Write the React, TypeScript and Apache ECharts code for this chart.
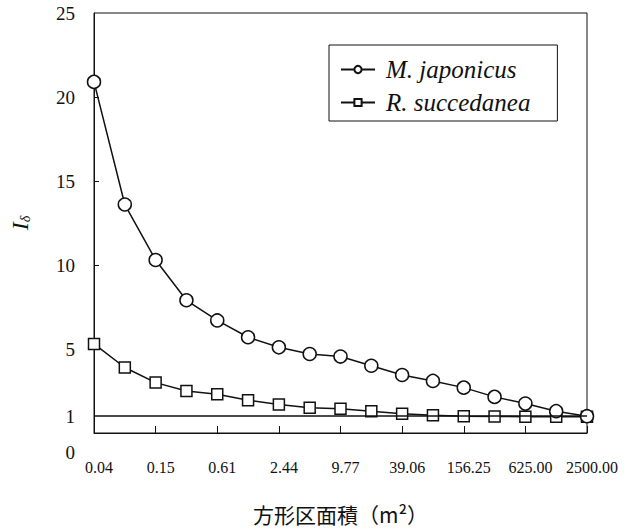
import React, { useEffect, useRef } from "react";
import * as echarts from "echarts";

const categories = [
  "0.04", "0.08", "0.15", "0.31", "0.61", "1.22", "2.44", "4.88", "9.77",
  "19.53", "39.06", "78.13", "156.25", "312.50", "625.00", "1250.00", "2500.00",
];
const japonicus = [20.9, 13.6, 10.3, 7.9, 6.7, 5.7, 5.1, 4.7, 4.55, 4.0, 3.45, 3.1, 2.7, 2.15, 1.75, 1.3, 1.0];
const succedanea = [5.3, 3.9, 3.0, 2.5, 2.3, 1.95, 1.7, 1.5, 1.45, 1.3, 1.15, 1.05, 1.0, 0.98, 0.97, 0.97, 0.97];
const yLabelValues = [0, 1, 5, 10, 15, 20, 25];
const yTickValues = [5, 10, 15, 20];
const referenceValue = 1;
const seriesNames = ["M. japonicus", "R. succedanea"];
const xAxisTitle = "方形区面積（m²）";

const SERIF = "'Liberation Serif', 'DejaVu Serif', serif";

export default function App() {
  const ref = useRef<HTMLDivElement>(null);
  useEffect(() => {
    if (!ref.current) return;
    const chart = echarts.init(ref.current, null, { renderer: "svg" });
    chart.setOption({
      animation: false,
      backgroundColor: "#ffffff",
      grid: {
        left: 93,
        top: 13,
        right: 37,
        bottom: 89,
        show: true,
        borderColor: "#111",
        borderWidth: 1,
      },
      legend: {
        orient: "vertical",
        left: 329,
        top: 45,
        padding: [12, 27, 6, 11],
        itemGap: 8,
        itemWidth: 34,
        itemHeight: 9,
        borderColor: "#111",
        borderWidth: 1,
        data: seriesNames,
        textStyle: {
          fontFamily: SERIF,
          fontStyle: "italic",
          fontSize: 25,
          color: "#111",
          padding: [0, 0, 0, 6],
        },
      },
      xAxis: {
        type: "category",
        data: categories,
        boundaryGap: false,
        name: xAxisTitle,
        nameLocation: "middle",
        nameGap: 70,
        nameTextStyle: {
          fontFamily: "'Noto Sans CJK JP', sans-serif",
          fontSize: 21,
          color: "#111",
        },
        axisLine: { show: true, lineStyle: { color: "#111", width: 1 } },
        axisTick: {
          show: true,
          inside: true,
          interval: 1,
          length: 7,
          lineStyle: { color: "#111" },
        },
        axisLabel: {
          interval: 1,
          margin: 26,
          fontFamily: SERIF,
          fontSize: 16,
          color: "#111",
          padding: [0, 0, 0, 10],
        },
        splitLine: { show: false },
      },
      yAxis: {
        type: "value",
        min: 0,
        max: 25,
        interval: 1,
        name: "{i|I}{s|δ}",
        nameLocation: "middle",
        nameRotate: 90,
        nameGap: 62,
        nameTextStyle: {
          rich: {
            i: { fontFamily: SERIF, fontStyle: "italic", fontSize: 24, color: "#111" },
            s: { fontFamily: SERIF, fontStyle: "italic", fontSize: 14, color: "#111", verticalAlign: "bottom", padding: [10, 0, 0, 0] },
          },
        },
        axisLine: { show: true, lineStyle: { color: "#111", width: 1 } },
        axisTick: {
          show: true,
          inside: true,
          length: 5,
          customValues: yTickValues,
          lineStyle: { color: "#111" },
        },
        axisLabel: {
          customValues: yLabelValues,
          margin: 19,
          fontFamily: SERIF,
          fontSize: 19,
          color: "#111",
          formatter: (v: number) => (v === 0 ? "{z|0}" : String(v)),
          rich: {
            z: { fontFamily: SERIF, fontSize: 19, color: "#111", padding: [38, 0, 0, 0] },
          },
        },
        splitLine: { show: false },
      },
      series: [
        {
          name: seriesNames[1],
          type: "line",
          data: succedanea,
          symbol: "rect",
          symbolSize: 11,
          itemStyle: { color: "#fff", borderColor: "#111", borderWidth: 1.5 },
          lineStyle: { color: "#111", width: 1.5 },
          markLine: {
            silent: true,
            symbol: ["none", "none"],
            label: { show: false },
            lineStyle: { color: "#111", width: 1.5, type: "solid" },
            data: [{ yAxis: referenceValue }],
          },
          z: 2,
        },
        {
          name: seriesNames[0],
          type: "line",
          data: japonicus,
          symbol: "circle",
          symbolSize: 13,
          itemStyle: { color: "#fff", borderColor: "#111", borderWidth: 1.5 },
          lineStyle: { color: "#111", width: 1.5 },
          z: 3,
        },
      ],
    });
    return () => chart.dispose();
  }, []);
  return (
    <div
      ref={ref}
      style={{ position: "absolute", left: 0, top: 0, width: 624, height: 529 }}
    />
  );
}
